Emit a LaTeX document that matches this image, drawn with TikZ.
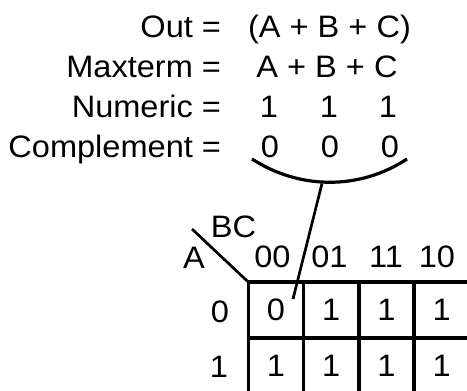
\documentclass[tikz,border=0pt]{standalone}
\usepackage{fontspec}
\setmainfont{Liberation Sans}[FakeStretch=1.05]
\begin{document}
\begin{tikzpicture}[x=1pt,y=-1pt,
  every node/.style={inner sep=0pt, outer sep=0pt, font=\fontsize{31}{37}\selectfont},
  lbl/.style={anchor=base east},
  val/.style={anchor=base},
  cell/.style={draw, line width=3.4pt, minimum width=55.5pt, minimum height=56pt},
  thick line/.style={line width=3.2pt},
  pointer/.style={line width=2.7pt}]
\useasboundingbox (0,0) rectangle (467,391);
\clip (0,0) rectangle (467,391);
% left labels
\node[lbl] (out) at (221,37) {Out =};
\node[lbl] (max) at (221,77) {Maxterm =};
\node[lbl] (num) at (221,117) {Numeric =};
\node[lbl] (comp) at (221,157) {Complement =};
% values
\node[val] (expr) at (329.5,37) {(A + B + C)};
\node[val] (mt) at (327,77) {A + B + C};
\node[val] (n1) at (269,117) {1};
\node[val] (n2) at (329,117) {1};
\node[val] (n3) at (388,117) {1};
\node[val] (z1) at (270,157) {0};
\node[val] (z2) at (330,157) {0};
\node[val] (z3) at (390,157) {0};
% brace arc
\coordinate (al) at (252,159);
\coordinate (ar) at (407,159);
\coordinate (ab) at (322,183.5);
\draw[thick line] (al) .. controls (300,190) and (360,190) .. (ar);
% K-map cells
\node[cell] (c00) at (276,310) {0};
\node[cell] (c01) at (331.25,310) {1};
\node[cell] (c11) at (386.5,310) {1};
\node[cell] (c10) at (441.75,310) {1};
\node[cell] (d00) at (276,366) {1};
\node[cell] (d01) at (331.25,366) {1};
\node[cell] (d11) at (386.5,366) {1};
\node[cell] (d10) at (441.75,366) {1};
% headers
\node[val] (h00) at (272.5,267) {00};
\node[val] (h01) at (329.5,267) {01};
\node[val] (h11) at (386,267) {11};
\node[val] (h10) at (437,267) {10};
\node[val] (r0) at (220,322) {0};
\node[val] (r1) at (219,377) {1};
\node[val] (bc) at (233.5,237) {BC};
\node[val] (a) at (194,268) {A};
% diagonal
\coordinate (dstart) at (192,229);
\draw[pointer] (dstart) -- (c00.north west);
% pointer from arc to cell
\coordinate (ptr) at (293,299);
\draw[pointer] (ab) -- (ptr);
\end{tikzpicture}
\end{document}
